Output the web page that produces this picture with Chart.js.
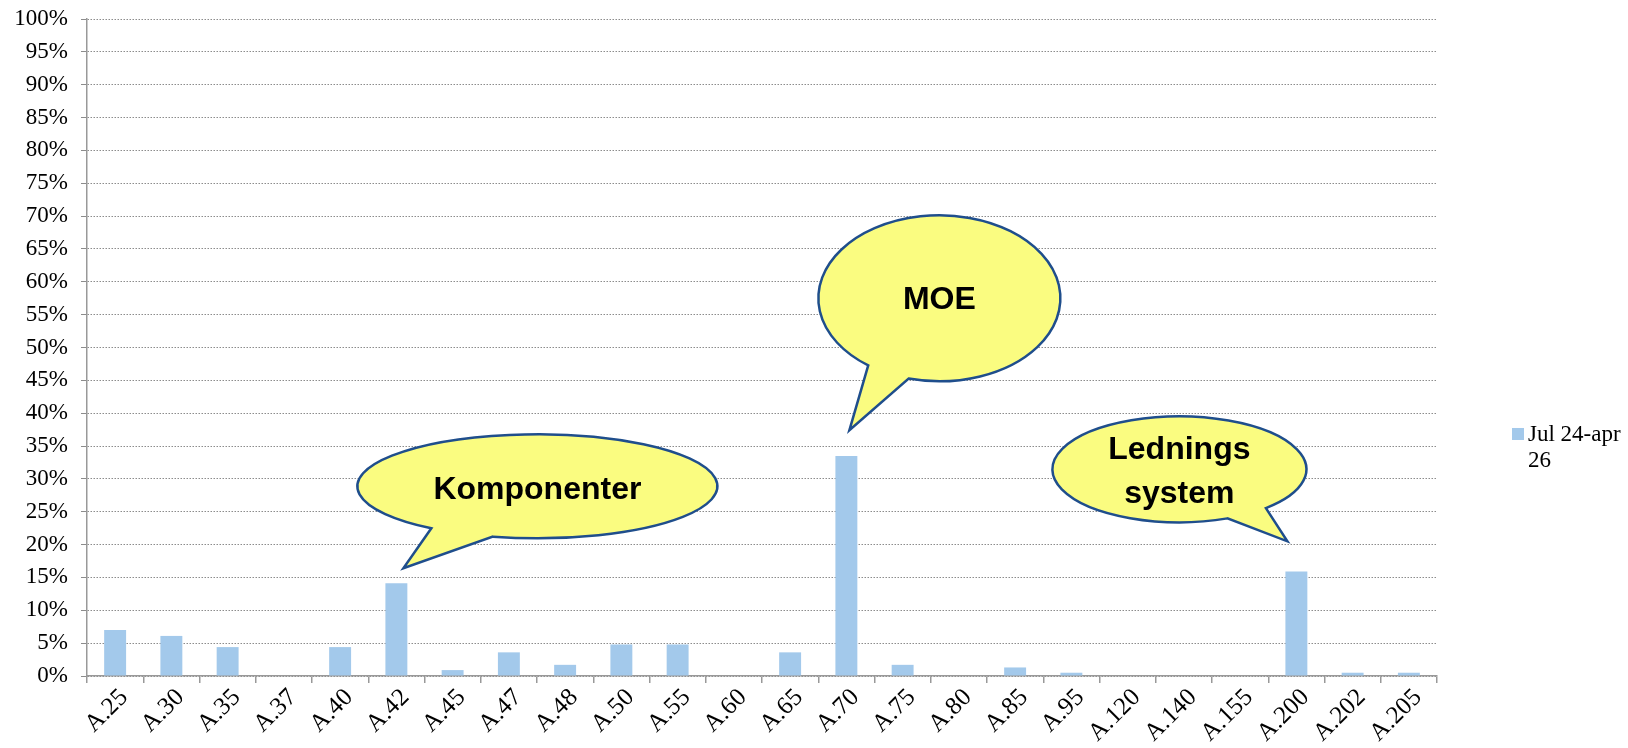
<!DOCTYPE html>
<html>
<head>
<meta charset="utf-8">
<script src="https://cdn.jsdelivr.net/npm/chart.js@4.4.1/dist/chart.umd.min.js"></script>
<style>
  html, body { margin: 0; padding: 0; background: #fff; }
  #wrap { width: 1628px; height: 748px; }
</style>
</head>
<body>
<div id="wrap"><canvas id="chart" width="1628" height="748"></canvas></div>
<script>
// data
const categories = ['A.25', 'A.30', 'A.35', 'A.37', 'A.40', 'A.42', 'A.45', 'A.47', 'A.48', 'A.50',
  'A.55', 'A.60', 'A.65', 'A.70', 'A.75', 'A.80', 'A.85', 'A.95', 'A.120', 'A.140', 'A.155',
  'A.200', 'A.202', 'A.205'];
const seriesLabel = ['Jul 24-apr', '26'];
const shares = [7.0, 6.1, 4.4, 0, 4.4, 14.1, 0.9, 3.6, 1.7, 4.8,
  4.8, 0, 3.6, 33.5, 1.7, 0, 1.3, 0.5, 0, 0, 0,
  15.9, 0.5, 0.5];
const percentTicks = ['0%', '5%', '10%', '15%', '20%', '25%', '30%', '35%', '40%', '45%', '50%',
  '55%', '60%', '65%', '70%', '75%', '80%', '85%', '90%', '95%', '100%'];

// speech bubbles: tip anchored on a category/value, bubble placed relative to the tip (px)
const callouts = [
  { lines: ['Komponenter'], at: 'A.42', tipDx: 7, tipValue: 16.4,
    dx: 134, dy: -82, rx: 180, ry: 52, b1: [28, -40], b2: [89, -31], textDy: 4 },
  { lines: ['MOE'], at: 'A.70', tipDx: 3, tipValue: 37.4,
    dx: 90, dy: -132, rx: 121, ry: 83, b1: [19, -65], b2: [59, -51], textDy: 2 },
  { lines: ['Lednings', 'system'], at: 'A.200', tipDx: -9, tipValue: 20.5,
    dx: -108, dy: -72, rx: 127, ry: 53, b1: [-21, -33], b2: [-60, -23], textDy: 3 }
];

const serif = '"Liberation Serif", "Times New Roman", serif';
const barColor = '#a3c9eb';

const calloutPlugin = {
  id: 'callouts',
  afterDatasetsDraw(chart) {
    const { ctx, scales: { x, y } } = chart;
    callouts.forEach(c => {
      const tx = x.getPixelForValue(categories.indexOf(c.at)) + c.tipDx;
      const ty = y.getPixelForValue(c.tipValue);
      const cx = tx + c.dx, cy = ty + c.dy;
      let a1 = Math.atan2((ty + c.b1[1] - cy) / c.ry, (tx + c.b1[0] - cx) / c.rx);
      let a2 = Math.atan2((ty + c.b2[1] - cy) / c.ry, (tx + c.b2[0] - cx) / c.rx);
      let d = (a2 - a1 + Math.PI * 4) % (Math.PI * 2);
      if (d < Math.PI) { const t = a1; a1 = a2; a2 = t; }
      ctx.save();
      ctx.beginPath();
      ctx.ellipse(cx, cy, c.rx, c.ry, 0, a1, a2, false);
      ctx.lineTo(tx, ty);
      ctx.closePath();
      ctx.fillStyle = '#fafc80';
      ctx.fill();
      ctx.lineWidth = 2.5;
      ctx.strokeStyle = '#1f4e8c';
      ctx.lineJoin = 'miter';
      ctx.stroke();
      ctx.fillStyle = '#000';
      ctx.font = 'bold 32px "Liberation Sans", Arial, sans-serif';
      ctx.textAlign = 'center';
      ctx.textBaseline = 'middle';
      const lh = 44;
      c.lines.forEach((s, i) => {
        ctx.fillText(s, cx, cy + c.textDy + (i - (c.lines.length - 1) / 2) * lh);
      });
      ctx.restore();
    });
  }
};

const legendPlugin = {
  id: 'sideLegend',
  afterDraw(chart) {
    const { ctx, chartArea } = chart;
    const bx = chartArea.right + 75;
    const by = chartArea.top + (chartArea.bottom - chartArea.top) * 0.6225;
    ctx.save();
    ctx.fillStyle = barColor;
    ctx.fillRect(bx, by, 12, 12);
    ctx.fillStyle = '#000';
    ctx.font = '23px ' + serif;
    ctx.textAlign = 'left';
    ctx.textBaseline = 'alphabetic';
    seriesLabel.forEach((s, i) => ctx.fillText(s, bx + 16, by + 13 + i * 26));
    ctx.restore();
  }
};

new Chart(document.getElementById('chart'), {
  type: 'bar',
  data: {
    labels: categories,
    datasets: [{
      label: seriesLabel.join(' '),
      data: shares,
      backgroundColor: barColor,
      borderWidth: 0,
      barPercentage: 0.39,
      categoryPercentage: 1.0
    }]
  },
  options: {
    responsive: false,
    animation: false,
    layout: { padding: { top: 19, right: 191, bottom: 0, left: 0 } },
    plugins: {
      legend: { display: false },
      tooltip: { enabled: false }
    },
    scales: {
      x: {
        grid: { display: true, drawOnChartArea: false, drawTicks: true, tickLength: 7, color: '#999', lineWidth: 1.5 },
        border: { display: true, color: '#999', width: 1.5 },
        ticks: {
          autoSkip: false, minRotation: 45, maxRotation: 45, padding: 0, labelOffset: 9,
          color: '#000', font: { family: serif, size: 25 }
        },
        afterFit(scale) { scale.height = 72; }
      },
      y: {
        min: 0, max: 100,
        grid: { color: '#8c8c8c', lineWidth: 1, tickLength: 6 },
        border: { display: true, color: '#999', width: 1.5, dash: [1.5, 1.5] },
        ticks: {
          stepSize: 5, padding: 13, color: '#000',
          font: { family: serif, size: 23 },
          callback: (v, i) => percentTicks[i]
        },
        afterFit(scale) {
          scale.width = 87;
          scale.paddingTop = 0;
          scale.paddingBottom = 0;
        }
      }
    }
  },
  plugins: [calloutPlugin, legendPlugin]
});
</script>
</body>
</html>
